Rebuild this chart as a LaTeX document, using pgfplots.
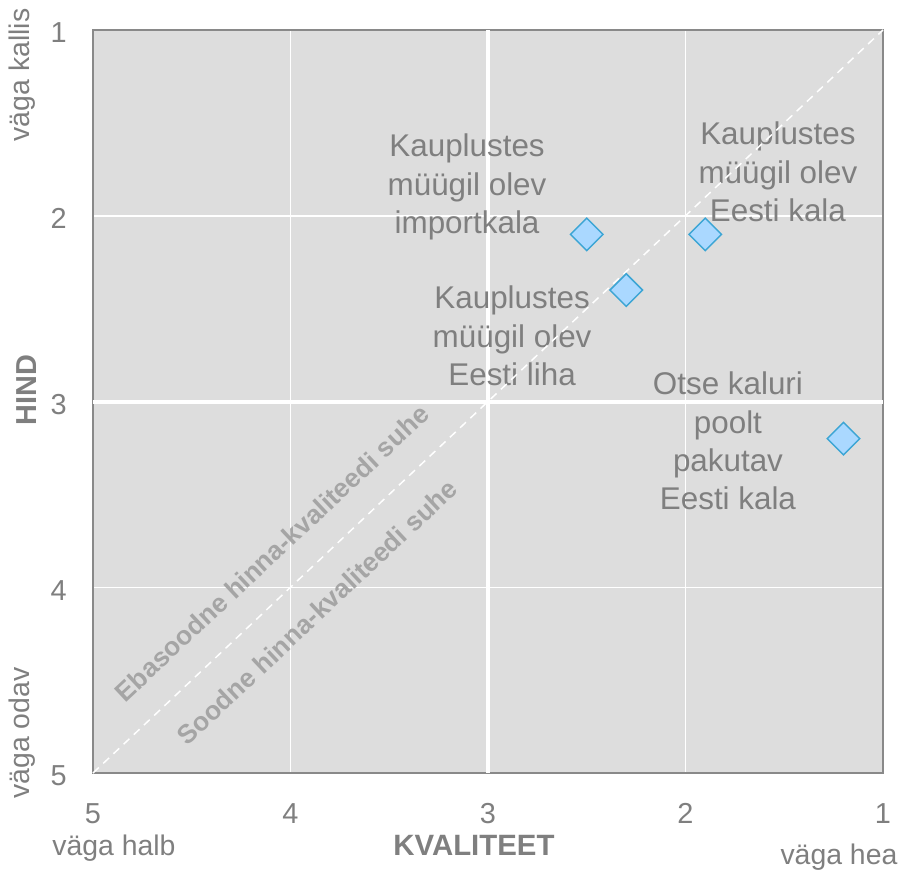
\documentclass[border=0pt]{standalone}
\usepackage{pgfplots}
\pgfplotsset{compat=1.18}
\usepackage{fontspec}
\setmainfont{Liberation Sans}
\definecolor{bgGray}{RGB}{221,221,221}
\definecolor{axisGray}{RGB}{137,137,137}
\definecolor{txtGray}{RGB}{127,127,127}
\definecolor{diagGray}{RGB}{165,165,165}
\definecolor{dFill}{RGB}{170,216,255}
\definecolor{dEdge}{RGB}{60,165,212}
\begin{document}
\begin{tikzpicture}
\begin{axis}[
  name=ax,
  width=790bp, height=743bp, scale only axis,
  xmin=1, xmax=5, ymin=1, ymax=5,
  x dir=reverse, y dir=reverse,
  xtick={1,2,3,4,5}, ytick={1,2,3,4,5},
  major tick length=0pt,
  grid=major,
  major grid style={white, line width=1.5bp},
  axis background/.style={fill=bgGray},
  axis line style={draw=axisGray, line width=1.5bp},
  /pgf/number format/assume math mode=true,
  tick label style={font=\fontsize{29}{34}\selectfont, text=txtGray},
  yticklabel style={anchor=east, inner sep=0pt, xshift=-26bp, yshift=-3bp},
  xticklabel style={anchor=north, inner sep=0pt, yshift=-30bp},
  clip=false,
]
\addplot[white, line width=4bp] coordinates {(3,1) (3,5)};
\addplot[white, line width=4bp] coordinates {(1,3) (5,3)};

\node[font=\fontsize{31.5}{38.5}\selectfont, text=txtGray, align=center] at (axis cs:3.106,1.845) {Kauplustes\\müügil olev\\importkala};
\node[font=\fontsize{31.5}{38.5}\selectfont, text=txtGray, align=center] at (axis cs:1.532,1.764) {Kauplustes\\müügil olev\\Eesti kala};
\node[font=\fontsize{31.5}{38.5}\selectfont, text=txtGray, align=center] at (axis cs:2.878,2.647) {Kauplustes\\müügil olev\\Eesti liha};
\node[font=\fontsize{31.5}{38.5}\selectfont, text=txtGray, align=center] at (axis cs:1.785,3.213) {Otse kaluri\\poolt\\pakutav\\Eesti kala};

\addplot[white, line width=1.5bp, dash pattern=on 8bp off 6bp] coordinates {(5,5) (1,1)};

\node[font=\fontsize{26.5}{31}\selectfont\bfseries, text=diagGray, rotate=43.2] at (axis cs:4.094,3.816) {Ebasoodne hinna-kvaliteedi suhe};
\node[font=\fontsize{26.5}{31}\selectfont\bfseries, text=diagGray, rotate=43.2] at (axis cs:3.866,4.133) {Soodne hinna-kvaliteedi suhe};

\addplot[only marks, mark=square*, mark size=11.5bp,
  mark options={rotate=45, fill=dFill, draw=dEdge, line width=1.5bp}]
  coordinates {(2.5,2.1) (1.9,2.1) (2.3,2.4) (1.2,3.2)};

\node[font=\fontsize{29}{34}\selectfont\bfseries, text=txtGray, rotate=90] at (axis cs:5.334,2.938) {HIND};
\node[font=\fontsize{28.5}{34}\selectfont, text=txtGray, rotate=90] at (axis cs:5.36,1.242) {väga kallis};
\node[font=\fontsize{28.5}{34}\selectfont, text=txtGray, rotate=90] at (axis cs:5.36,4.785) {väga odav};
\node[font=\fontsize{28.5}{34}\selectfont, text=txtGray] at (axis cs:4.894,5.404) {väga halb};
\node[font=\fontsize{29.5}{34}\selectfont\bfseries, text=txtGray] at (axis cs:3.071,5.388) {KVALITEET};
\node[font=\fontsize{28.5}{34}\selectfont, text=txtGray] at (axis cs:1.223,5.452) {väga hea};
\end{axis}
\pgfresetboundingbox
\path[use as bounding box] ([shift={(-93bp,-97bp)}]ax.south west) rectangle ([shift={(25bp,30bp)}]ax.north east);
\end{tikzpicture}
\end{document}
